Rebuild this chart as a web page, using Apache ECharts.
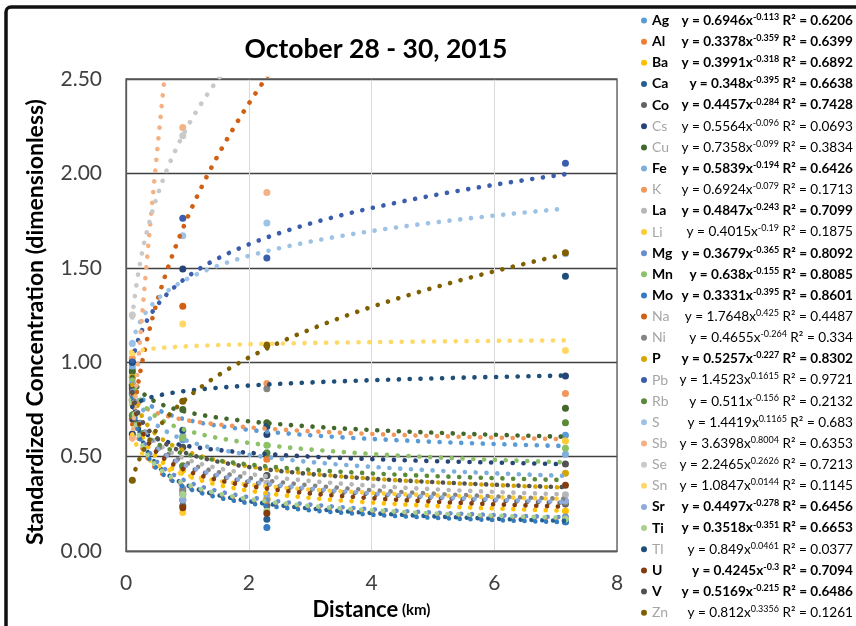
<!DOCTYPE html>
<html>
<head>
<meta charset="utf-8">
<script src="https://cdn.jsdelivr.net/npm/echarts@6/dist/echarts.min.js"></script>
<style>
html, body { margin: 0; padding: 0; background: #fff; }
#chart { width: 856px; height: 626px; }
</style>
</head>
<body>
<div id="chart"></div>
<script>
// elements, in legend order
var elements = ['Ag', 'Al', 'Ba', 'Ca', 'Co', 'Cs', 'Cu', 'Fe', 'K', 'La', 'Li', 'Mg', 'Mn', 'Mo', 'Na',
    'Ni', 'P', 'Pb', 'Rb', 'S', 'Sb', 'Se', 'Sn', 'Sr', 'Ti', 'Tl', 'U', 'V', 'Zn'];
var colors = ['#5B9BD5', '#ED7D31', '#FFC000', '#255E91', '#636363', '#264478', '#43682B', '#7CAFDD', '#F1975A',
    '#B7B7B7', '#FFCD33', '#698ED0', '#8CC168', '#327DC2', '#D26012', '#848484', '#D5A500', '#3A5DAE', '#5A8A39',
    '#9CC3E6', '#F4B183', '#C9C9C9', '#FFD966', '#8FAADC', '#A9D18E', '#1F4E79', '#843C0C', '#525252', '#7F6000'];
// elements whose trendline label is shown in bold
var boldElements = ['Ag', 'Al', 'Ba', 'Ca', 'Co', 'Fe', 'La', 'Mg', 'Mn', 'Mo', 'P', 'Sr', 'Ti', 'U', 'V'];

// sampling distances (km)
var distances = [0.103, 0.925, 2.295, 7.16];
// standardized concentration at each distance, one value per element
var valuesAt010 = [0.96, 0.80, 0.80, 0.88, 0.88, 0.62, 0.95, 0.98, 1.02, 0.90, 0.78, 0.83, 0.92, 0.84, 0.70,
    0.80, 0.92, 1.00, 0.72, 1.10, 0.60, 1.25, 1.05, 0.86, 0.80, 1.00, 0.86, 0.87, 0.375];
var valuesAt093 = [0.59, 0.31, 0.43, 0.27, 0.24, 1.494, 0.75, 0.609, 0.60, 0.45, 0.205, 0.33, 0.60, 0.30, 1.297,
    0.32, 0.45, 1.763, 0.45, 1.670, 2.243, 2.20, 1.203, 0.27, 0.30, 0.64, 0.23, 0.55, 0.794];
var valuesAt230 = [0.52, 0.486, 0.28, 0.169, 0.24, 0.618, 0.68, 0.40, 0.888, 0.36, 0.27, 0.27, 0.56, 0.125, 2.90,
    0.86, 0.275, 1.552, 0.52, 1.737, 1.899, 2.90, 1.094, 0.30, 0.213, 0.66, 0.20, 0.40, 1.09];
var valuesAt716 = [0.613, 0.17, 0.213, 0.155, 0.25, 0.927, 0.757, 0.513, 0.835, 0.298, 0.583, 0.18, 0.544, 0.155, 3.40,
    0.26, 0.412, 2.054, 0.68, 1.575, 9.50, 3.60, 1.062, 0.266, 0.17, 1.455, 0.349, 0.461, 1.58];

// power trendlines y = a * x^b as printed next to the legend
var trendA = [0.6946, 0.3378, 0.3991, 0.348, 0.4457, 0.5564, 0.7358, 0.5839, 0.6924, 0.4847, 0.4015, 0.3679, 0.638,
    0.3331, 1.7648, 0.4655, 0.5257, 1.4523, 0.511, 1.4419, 3.6398, 2.2465, 1.0847, 0.4497, 0.3518, 0.849, 0.4245,
    0.5169, 0.812];
var trendB = [-0.113, -0.359, -0.318, -0.395, -0.284, -0.096, -0.099, -0.194, -0.079, -0.243, -0.19, -0.365, -0.155,
    -0.395, 0.425, -0.264, -0.227, 0.1615, -0.156, 0.1165, 0.8004, 0.2626, 0.0144, -0.278, -0.351, 0.0461, -0.3,
    -0.215, 0.3356];
var trendR2 = ['0.6206', '0.6399', '0.6892', '0.6638', '0.7428', '0.0693', '0.3834', '0.6426', '0.1713', '0.7099',
    '0.1875', '0.8092', '0.8085', '0.8601', '0.4487', '0.334', '0.8302', '0.9721', '0.2132', '0.683', '0.6353',
    '0.7213', '0.1145', '0.6456', '0.6653', '0.0377', '0.7094', '0.6486', '0.1261'];

var yTicks = [0, 0.5, 1, 1.5, 2, 2.5];
var xTicks = [0, 2, 4, 6, 8];

var FONT = 'Lato';
var columns = [valuesAt010, valuesAt093, valuesAt230, valuesAt716];

var series = [];
elements.forEach(function (el, i) {
    var points = distances.map(function (d, k) {
        return [d, columns[k][i]];
    });
    series.push({
        name: el,
        type: 'scatter',
        data: points,
        symbolSize: 7,
        clip: true,
        itemStyle: {color: colors[i], opacity: 1},
        silent: true
    });
    // trendline from first to last distance
    var trend = [];
    var x0 = distances[0], x1 = distances[distances.length - 1];
    for (var x = x0; x < x1; x += 0.01) {
        trend.push([x, trendA[i] * Math.pow(x, trendB[i])]);
    }
    trend.push([x1, trendA[i] * Math.pow(x1, trendB[i])]);
    series.push({
        name: el,
        type: 'line',
        data: trend,
        symbol: 'none',
        showSymbol: false,
        clip: true,
        silent: true,
        lineStyle: {color: colors[i], width: 4.6, type: [0.1, 10.7], cap: 'round'}
    });
});

// equation labels right of the legend names
var ROW0 = 20.5, ROWH = 21.15;
var graphics = [{
    type: 'rect',
    shape: {x: 6, y: 7, width: 1000, height: 1000, r: 5},
    style: {fill: 'none', stroke: '#111', lineWidth: 3.5},
    silent: true
}];
elements.forEach(function (el, i) {
    var isBold = boldElements.indexOf(el) >= 0;
    var key = isBold ? 'b' : 'g';
    var txt = '{' + key + '|y = ' + trendA[i] + 'x}{' + key + 's|' + trendB[i] + '}{' + key + '| R² = ' + trendR2[i] + '}';
    graphics.push({
        type: 'text',
        x: 853,
        y: ROW0 + i * ROWH,
        silent: true,
        style: {
            text: txt,
            align: 'right',
            verticalAlign: 'middle',
            rich: {
                b: {fontFamily: FONT, fontWeight: 'bold', fontSize: 13.6, color: '#000', lineHeight: 16},
                bs: {fontFamily: FONT, fontWeight: 'bold', fontSize: 9, color: '#000', lineHeight: 16, verticalAlign: 'top'},
                g: {fontFamily: FONT, fontSize: 13.6, color: '#a6a6a6', lineHeight: 16},
                gs: {fontFamily: FONT, fontSize: 9, color: '#a6a6a6', lineHeight: 16, verticalAlign: 'top'}
            }
        }
    });
});

var myChart = echarts.init(document.getElementById('chart'), null, {renderer: 'canvas'});
myChart.setOption({
    animation: false,
    backgroundColor: '#fff',
    title: {
        text: 'October 28 - 30, 2015',
        left: 371,
        textAlign: 'center',
        top: 31,
        textStyle: {fontFamily: FONT, fontWeight: 'bold', fontSize: 26.5, color: '#000'}
    },
    grid: {left: 126, right: 239, top: 79, bottom: 74, show: true, borderColor: '#595959', borderWidth: 1.3, z: 3},
    legend: {
        orient: 'vertical',
        left: 641,
        top: ROW0 - ROWH / 2,
        padding: 0,
        itemGap: 0,
        itemWidth: 6,
        itemHeight: 6,
        icon: 'circle',
        selectedMode: false,
        data: elements,
        formatter: function (name) {
            return boldElements.indexOf(name) >= 0 ? '{b|' + name + '}' : '{g|' + name + '}';
        },
        textStyle: {
            lineHeight: ROWH,
            rich: {
                b: {fontFamily: FONT, fontWeight: 'bold', fontSize: 14, color: '#000', lineHeight: ROWH},
                g: {fontFamily: FONT, fontSize: 14, color: '#a6a6a6', lineHeight: ROWH}
            }
        }
    },
    xAxis: {
        type: 'value',
        min: xTicks[0],
        max: xTicks[xTicks.length - 1],
        interval: 2,
        name: '{a|Distance}{b| (km)}',
        nameLocation: 'middle',
        nameGap: 46,
        nameTextStyle: {
            rich: {
                a: {fontFamily: FONT, fontWeight: 'bold', fontSize: 22, color: '#000'},
                b: {fontFamily: FONT, fontWeight: 'bold', fontSize: 15, color: '#000'}
            }
        },
        axisLine: {lineStyle: {color: '#595959', width: 1.3}},
        axisTick: {show: false},
        axisLabel: {fontFamily: FONT, fontSize: 21, color: '#404040', margin: 22},
        splitLine: {show: true, lineStyle: {color: '#d9d9d9', width: 1}}
    },
    yAxis: {
        type: 'value',
        min: yTicks[0],
        max: yTicks[yTicks.length - 1],
        interval: 0.5,
        name: 'Standardized Concentration (dimensionless)',
        nameLocation: 'middle',
        nameGap: 79,
        nameTextStyle: {fontFamily: FONT, fontWeight: 'bold', fontSize: 23, color: '#000', padding: [0, 14, 0, 0]},
        axisLine: {show: true, lineStyle: {color: '#595959', width: 1.3}},
        axisTick: {show: false},
        axisLabel: {
            fontFamily: FONT, fontSize: 21, color: '#404040', margin: 24,
            formatter: function (v) { return v.toFixed(2); }
        },
        splitLine: {show: true, lineStyle: {color: '#404040', width: 1.3}}
    },
    graphic: graphics,
    series: series
});
</script>
</body>
</html>
